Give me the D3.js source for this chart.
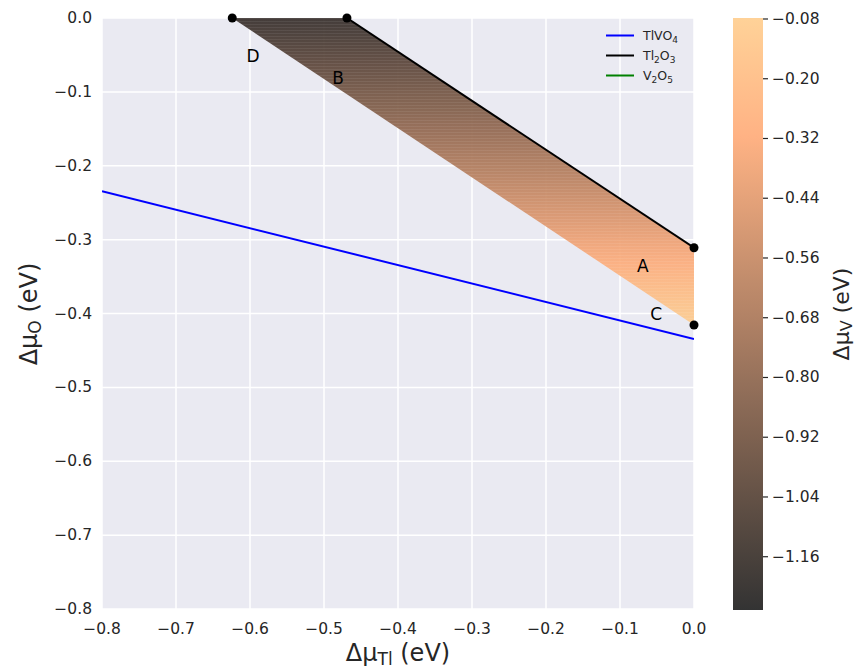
<!DOCTYPE html>
<html>
<head>
<meta charset="utf-8">
<script src="https://cdn.jsdelivr.net/npm/d3@7"></script>
<style>
  body { margin: 0; background: #fff; }
  svg text { font-family: "DejaVu Sans", sans-serif; fill: #262626; }
</style>
</head>
<body>
<svg id="chart" width="858" height="670"></svg>
<script>
// Stability region corners (Δμ_Tl, Δμ_O) in eV
const regionNames = ["D", "B", "A", "C"];
const regionX = [-0.624, -0.469, 0.0, 0.0];
const regionY = [0.0, 0.0, -0.311, -0.4155];
// Positions of the corner letters in data space
const labelX = [-0.596, -0.481, -0.069, -0.051];
const labelY = [-0.052, -0.081, -0.336, -0.4];

// Boundary lines
const tlvo4X = [-0.8, 0.0];
const tlvo4Y = [-0.2345, -0.4345];
const tl2o3X = [-0.469, 0.0];
const tl2o3Y = [0.0, -0.311];

// Δμ_V colour range and its value at the top / bottom of the region
const muVDomain = [-1.267, -0.078];
const muVAtYTop = -1.18;     // Δμ_O = 0
const muVAtYBottom = -0.078; // Δμ_O = -0.4155
const cbTicks = [-0.08, -0.20, -0.32, -0.44, -0.56, -0.68, -0.80, -0.92, -1.04, -1.16];

const xTicks = [-0.8, -0.7, -0.6, -0.5, -0.4, -0.3, -0.2, -0.1, 0.0];
const yTicks = [0.0, -0.1, -0.2, -0.3, -0.4, -0.5, -0.6, -0.7, -0.8];

const legendNames = ["TlVO<sub>4</sub>", "Tl<sub>2</sub>O<sub>3</sub>", "V<sub>2</sub>O<sub>5</sub>"];
const legendColors = ["#0000ff", "#000000", "#008000"];

const svg = d3.select("#chart");
const m = { left: 102, right: 694, top: 18, bottom: 609 };

const x = d3.scaleLinear().domain([-0.8, 0]).range([m.left, m.right]);
const y = d3.scaleLinear().domain([-0.8, 0]).range([m.bottom, m.top]);

// matplotlib "copper" colormap, blended at alpha over a background
function copper(t) {
  return [Math.min(1, 1.25 * t), 0.7812 * t, 0.4975 * t];
}
function blend(rgb, bg, a) {
  return d3.rgb(
    (rgb[0] * a + bg[0] * (1 - a)) * 255,
    (rgb[1] * a + bg[1] * (1 - a)) * 255,
    (rgb[2] * a + bg[2] * (1 - a)) * 255
  ).toString();
}
const tOf = d3.scaleLinear().domain(muVDomain).range([0, 1]).clamp(true);
const plotBg = [0xea / 255, 0xea / 255, 0xf2 / 255];

// Plot background and grid
svg.append("rect").attr("x", m.left).attr("y", m.top)
  .attr("width", m.right - m.left).attr("height", m.bottom - m.top)
  .attr("fill", "#eaeaf2");

const grid = svg.append("g");
grid.selectAll(".gx").data(xTicks).join("line")
  .attr("x1", d => x(d)).attr("x2", d => x(d))
  .attr("y1", m.top).attr("y2", m.bottom)
  .attr("stroke", "#fff").attr("stroke-width", 1.5);
grid.selectAll(".gy").data(yTicks).join("line")
  .attr("y1", d => y(d)).attr("y2", d => y(d))
  .attr("x1", m.left).attr("x2", m.right)
  .attr("stroke", "#fff").attr("stroke-width", 1.5);

const defs = svg.append("defs");
defs.append("clipPath").attr("id", "plotClip")
  .append("rect").attr("x", m.left).attr("y", m.top)
  .attr("width", m.right - m.left).attr("height", m.bottom - m.top);

// Shaded region: vertical Δμ_V gradient, semi-transparent over the grid
const yBottom = d3.min(regionY);
const muVofY = d3.scaleLinear().domain([0, yBottom]).range([muVAtYTop, muVAtYBottom]);
const regionGrad = defs.append("linearGradient").attr("id", "regionGrad")
  .attr("gradientUnits", "userSpaceOnUse")
  .attr("x1", 0).attr("x2", 0).attr("y1", y(0)).attr("y2", y(yBottom));
d3.range(0, 1.0001, 0.05).forEach(f => {
  const muV = muVofY(yBottom * f);
  regionGrad.append("stop").attr("offset", f)
    .attr("stop-color", blend(copper(tOf(muV)), plotBg, 0.85));
});
const poly = regionX.map((d, i) => [x(d), y(regionY[i])]);
svg.append("polygon")
  .attr("points", poly.map(p => p.join(",")).join(" "))
  .attr("fill", "url(#regionGrad)")
  .attr("fill-opacity", 0.93);

// Fine hatching texture over the region
const hatch = defs.append("pattern").attr("id", "hatch")
  .attr("patternUnits", "userSpaceOnUse").attr("width", 4).attr("height", 3);
hatch.append("rect").attr("x", 0).attr("y", 0).attr("width", 4).attr("height", 1)
  .attr("fill", "#ffffff").attr("fill-opacity", 0.07);
svg.append("polygon")
  .attr("points", poly.map(p => p.join(",")).join(" "))
  .attr("fill", "url(#hatch)");

// Boundary lines
const line = d3.line().x(d => x(d[0])).y(d => y(d[1]));
const lines = svg.append("g").attr("clip-path", "url(#plotClip)");
lines.append("path").datum(tlvo4X.map((d, i) => [d, tlvo4Y[i]]))
  .attr("d", line).attr("fill", "none").attr("stroke", "#0000ff").attr("stroke-width", 2);
lines.append("path").datum(tl2o3X.map((d, i) => [d, tl2o3Y[i]]))
  .attr("d", line).attr("fill", "none").attr("stroke", "#000").attr("stroke-width", 2);

// Corner points
svg.append("g").selectAll("circle").data(regionX).join("circle")
  .attr("cx", d => x(d)).attr("cy", (d, i) => y(regionY[i]))
  .attr("r", 4.5).attr("fill", "#000");

// Corner labels
svg.append("g").selectAll("text").data(regionNames).join("text")
  .attr("x", (d, i) => x(labelX[i])).attr("y", (d, i) => y(labelY[i]))
  .attr("text-anchor", "middle").attr("dominant-baseline", "central")
  .attr("font-size", 17).style("fill", "#000").text(d => d);

// Axes tick labels
svg.append("g").selectAll("text").data(xTicks).join("text")
  .attr("x", d => x(d)).attr("y", 634)
  .attr("text-anchor", "middle").attr("font-size", 15.5)
  .text(d => d3.format(".1f")(d).replace("-", "\u2212"));
svg.append("g").selectAll("text").data(yTicks).join("text")
  .attr("x", 92).attr("y", d => y(d)).attr("dominant-baseline", "central")
  .attr("text-anchor", "end").attr("font-size", 15.5)
  .text(d => d3.format(".1f")(d).replace("-", "\u2212"));

// Axis titles
function title(sel, sub) {
  sel.append("tspan").text("\u0394\u03bc");
  sel.append("tspan").attr("font-size", 17).attr("dy", 4).text(sub);
  sel.append("tspan").attr("dy", -4).text(" (eV)");
}
const xl = svg.append("text").attr("x", 398).attr("y", 661)
  .attr("text-anchor", "middle").attr("font-size", 24);
title(xl, "Tl");

const yl = svg.append("text").attr("transform", "translate(37,314) rotate(-90)")
  .attr("text-anchor", "middle").attr("font-size", 24);
title(yl, "O");

// Legend
const lg = svg.append("g");
legendNames.forEach((name, i) => {
  const ly = 35.5 + i * 20;
  lg.append("line").attr("x1", 606).attr("x2", 634).attr("y1", ly).attr("y2", ly)
    .attr("stroke", legendColors[i]).attr("stroke-width", 2);
  const t = lg.append("text").attr("x", 643).attr("y", ly + 4).attr("font-size", 12.5);
  const parts = name.split(/(<sub>.*?<\/sub>)/).filter(s => s.length);
  let shifted = false;
  parts.forEach(p => {
    if (p.startsWith("<sub>")) {
      t.append("tspan").attr("dy", 3).attr("font-size", 9).text(p.replace(/<\/?sub>/g, ""));
      shifted = true;
    } else {
      t.append("tspan").attr("dy", shifted ? -3 : 0).text(p);
      shifted = false;
    }
  });
});

// Colour bar
const cb = { x: 733, w: 30, top: 18, bottom: 610 };
const cy = d3.scaleLinear().domain(muVDomain).range([cb.bottom, cb.top]);
const grad = defs.append("linearGradient").attr("id", "cbGrad")
  .attr("x1", 0).attr("y1", 1).attr("x2", 0).attr("y2", 0);
d3.range(0, 1.0001, 0.05).forEach(t => {
  grad.append("stop").attr("offset", t).attr("stop-color", blend(copper(t), [1, 1, 1], 0.8));
});
svg.append("rect").attr("x", cb.x).attr("y", cb.top).attr("width", cb.w)
  .attr("height", cb.bottom - cb.top).attr("fill", "url(#cbGrad)");
const cbg = svg.append("g");
cbg.selectAll("line").data(cbTicks).join("line")
  .attr("x1", cb.x + cb.w).attr("x2", cb.x + cb.w + 5)
  .attr("y1", d => cy(d)).attr("y2", d => cy(d))
  .attr("stroke", "#262626").attr("stroke-width", 1.2);
cbg.selectAll("text").data(cbTicks).join("text")
  .attr("x", cb.x + cb.w + 9).attr("y", d => cy(d)).attr("dominant-baseline", "central")
  .attr("font-size", 15.5)
  .text(d => d3.format(".2f")(d).replace("-", "\u2212"));

const cl = svg.append("text").attr("transform", "translate(849,314) rotate(-90)")
  .attr("text-anchor", "middle").attr("font-size", 22);
cl.append("tspan").text("\u0394\u03bc");
cl.append("tspan").attr("font-size", 16).attr("dy", 3).text("V");
cl.append("tspan").attr("dy", -3).text(" (eV)");
</script>
</body>
</html>
